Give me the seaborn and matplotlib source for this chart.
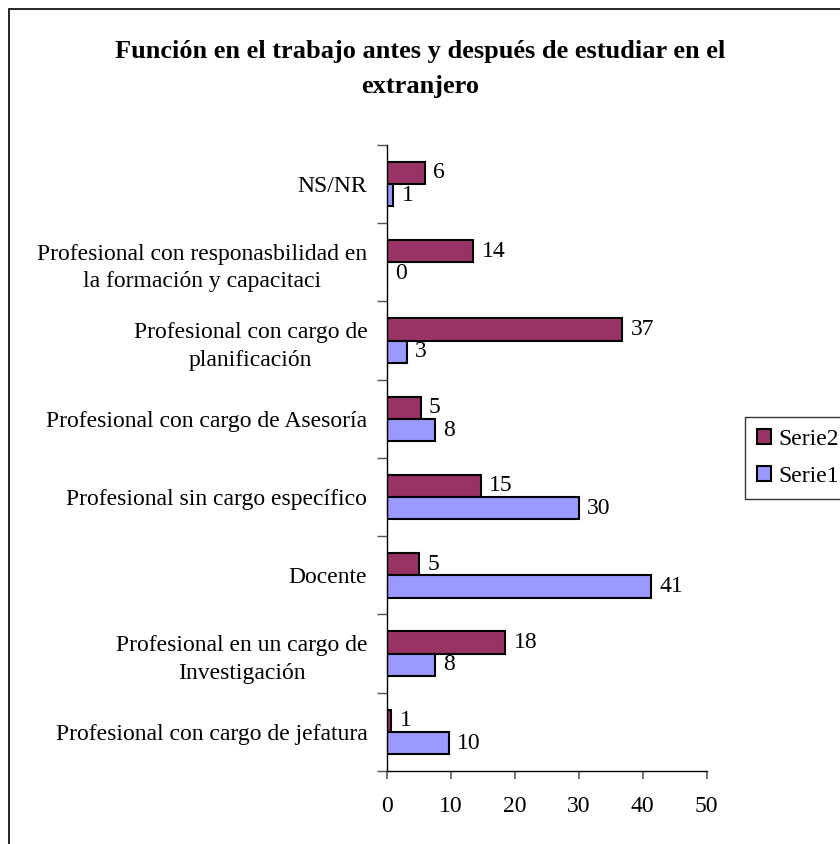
import pandas as pd
import matplotlib.pyplot as plt
import matplotlib.patches as mpatches
import seaborn as sns

# Categories, top to bottom
categories = [
    "NS/NR",
    "Profesional con responasbilidad en\nla formación y capacitaci",
    "Profesional con cargo de\nplanificación",
    "Profesional con cargo de Asesoría",
    "Profesional sin cargo específico",
    "Docente",
    "Profesional en un cargo de\nInvestigación",
    "Profesional con cargo de jefatura",
]
serie2 = [6.0, 13.5, 36.8, 5.3, 14.7, 5.1, 18.5, 0.7]
serie1 = [1.0, 0.0, 3.1, 7.5, 30.0, 41.3, 7.5, 9.7]
serie2_labels = [6, 14, 37, 5, 15, 5, 18, 1]
serie1_labels = [1, 0, 3, 8, 30, 41, 8, 10]
series_names = ["Serie2", "Serie1"]
colors = {"Serie2": "#993366", "Serie1": "#9999FF"}

df = pd.DataFrame({
    "categoria": categories * 2,
    "valor": serie2 + serie1,
    "serie": ["Serie2"] * len(categories) + ["Serie1"] * len(categories),
})

sns.set_style("white")
plt.rcParams["font.family"] = ["Liberation Serif", "DejaVu Serif"]
plt.rcParams["text.color"] = "black"
plt.rcParams["xtick.labelcolor"] = "black"
plt.rcParams["ytick.labelcolor"] = "black"
fs = 17

fig = plt.figure(figsize=(8.4, 8.44), dpi=100)
ax = fig.add_axes([0.4604, 0.0865, 0.3809, 0.7417])

sns.barplot(data=df, y="categoria", x="valor", hue="serie", hue_order=series_names,
            order=categories, palette=colors, saturation=1, orient="h", width=0.57,
            edgecolor="black", linewidth=1.5, ax=ax, legend=False)

for cont, labs in zip(ax.containers, [serie2_labels, serie1_labels]):
    ax.bar_label(cont, labels=[str(v) for v in labs], padding=6, fontsize=fs, color="black")

ax.set_xlim(0, 50)
ax.set_xticks(range(0, 51, 10))
ax.set_ylim(len(categories) - 0.5, -0.5)

# ticks at category boundaries, labels at centres
n = len(categories)
ax.set_yticks([i - 0.5 for i in range(n + 1)])
ax.set_yticklabels([])
ax.set_yticks(range(n), minor=True)
ax.set_yticklabels(categories, minor=True, fontsize=fs, multialignment="center",
                   linespacing=1.4, color="black")
ax.tick_params(axis="y", which="major", left=True, length=7, width=1, color="#555555")
ax.tick_params(axis="y", which="minor", left=False, length=0, pad=14)
ax.tick_params(axis="x", bottom=True, length=6, width=1.5, color="#777777",
               labelsize=fs, labelcolor="black", pad=12)

ax.set_xlabel("")
ax.set_ylabel("")
for side in ["top", "right"]:
    ax.spines[side].set_visible(False)
for side in ["left", "bottom"]:
    ax.spines[side].set_color("black")
    ax.spines[side].set_linewidth(1)

fig.text(0.5, 0.918, "Función en el trabajo antes y después de estudiar en el\nextranjero",
         ha="center", va="center", fontsize=19, fontweight="bold", linespacing=1.65,
         color="black")

handles = [mpatches.Patch(facecolor=colors[s], edgecolor="black", linewidth=1.5, label=s)
           for s in series_names]
leg = fig.legend(handles=handles, loc="upper left", bbox_to_anchor=(0.887, 0.506),
                 frameon=True, fancybox=False, fontsize=fs, handlelength=0.6,
                 handleheight=0.6, handletextpad=0.3, labelspacing=0.7, borderpad=0.5,
                 borderaxespad=0)
leg.get_frame().set_edgecolor("black")
leg.get_frame().set_linewidth(1)

# outer chart frame
fig.patches.append(mpatches.Rectangle((9 / 840, -0.01), 1.0, 1 - 9 / 844 + 0.01,
                                      transform=fig.transFigure, fill=False,
                                      edgecolor="black", linewidth=1.2))

fig.savefig("out.png", dpi=100)
